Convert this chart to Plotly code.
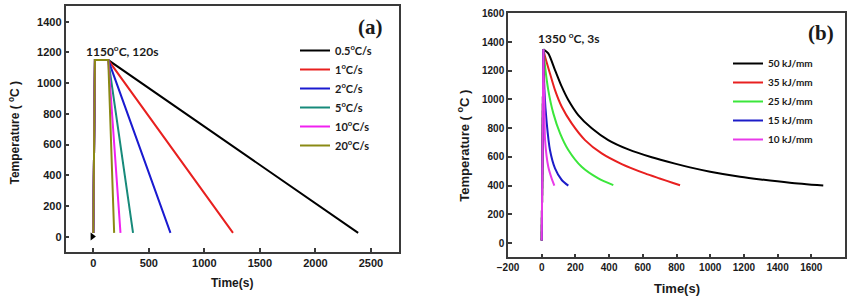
import plotly.graph_objects as go

W, H = 856, 298

# ---------- Panel (a) data ----------
labels_a = ["0.5<sup>o</sup>C/s", "1<sup>o</sup>C/s", "2<sup>o</sup>C/s", "5<sup>o</sup>C/s", "10<sup>o</sup>C/s", "20<sup>o</sup>C/s"]
colors_a = ["#000000", "#e8201f", "#1a1ad0", "#178a7a", "#f020f0", "#8a8a14"]
heat_t = [0, 15, 135]
heat_T = [25, 1150, 1150]
end_t_a = [2385, 1258, 695, 358, 245, 188]
end_T_a = [25, 25, 25, 25, 25, 25]

# ---------- Panel (b) data ----------
labels_b = ["50 kJ/mm", "35 kJ/mm", "25 kJ/mm", "15 kJ/mm", "10 kJ/mm"]
colors_b = ["#000000", "#e82020", "#3be63b", "#1c1cc8", "#e83ae8"]
heat_t_b = [0, 10]
heat_T_b = [18, 1350]
t_b = [
    [10, 39, 79, 119, 158, 217, 297, 395, 514, 653, 791, 880, 1000, 1177, 1300, 1473, 1671],
    [10, 20, 49, 79, 119, 178, 257, 356, 475, 613, 700, 780, 821],
    [10, 20, 39, 69, 109, 158, 237, 336, 425],
    [10, 16, 30, 49, 79, 119, 158],
    [10, 14, 16, 20, 39, 59, 75],
]
T_b = [
    [1350, 1321, 1205, 1089, 996, 891, 799, 717, 652, 597, 553, 527, 497, 462, 443, 420, 400],
    [1350, 1297, 1181, 1065, 949, 833, 717, 624, 550, 485, 450, 418, 402],
    [1350, 1228, 1065, 903, 764, 648, 531, 450, 403],
    [1350, 1065, 833, 648, 520, 439, 400],
    [1350, 1181, 949, 717, 531, 450, 400],
]

fig = go.Figure()

for lab, c, te, Te in zip(labels_a, colors_a, end_t_a, end_T_a):
    fig.add_trace(go.Scatter(
        x=heat_t + [te], y=heat_T + [Te], mode="lines", name=lab,
        line=dict(color=c, width=2), xaxis="x", yaxis="y", legend="legend"))

# small black marker near origin in (a)
fig.add_trace(go.Scatter(x=[-8], y=[2], mode="markers", showlegend=False,
                         marker=dict(symbol="triangle-right", size=7, color="black"),
                         xaxis="x", yaxis="y"))

for i, (lab, c, tt, TT) in enumerate(zip(labels_b, colors_b, t_b, T_b)):
    fig.add_trace(go.Scatter(
        x=tt, y=TT, mode="lines", name=lab, legendgroup=f"b{i}",
        line=dict(color=c, width=2, shape="spline", smoothing=0.7),
        xaxis="x2", yaxis="y2", legend="legend2"))
for i, c in enumerate(colors_b):
    fig.add_trace(go.Scatter(
        x=heat_t_b, y=heat_T_b, mode="lines", showlegend=False, legendgroup=f"b{i}",
        line=dict(color=c, width=2), xaxis="x2", yaxis="y2", legend="legend2"))

tickfont_a = dict(family="Liberation Sans", size=11, color="#1a1a1a", weight="bold")
tickfont_b = dict(family="Liberation Sans", size=10, color="#1a1a1a", weight="bold")
axcommon = dict(showgrid=False, zeroline=False, showline=True, mirror=True, automargin=False,
                linecolor="#3a3a3a", linewidth=1.5, ticks="inside", ticklen=4,
                tickcolor="#3a3a3a", tickwidth=1.5)

fig.update_layout(
    width=W, height=H, margin=dict(l=0, r=0, t=0, b=0, autoexpand=False),
    paper_bgcolor="white", plot_bgcolor="white",
    xaxis=dict(domain=[65.5 / W, 398.7 / W], range=[-250, 2750], tickvals=[0, 500, 1000, 1500, 2000, 2500],
               tickfont=tickfont_a, anchor="y", **axcommon),
    yaxis=dict(domain=[1 - 252.1 / H, 1 - 6.3 / H], range=[-100, 1500], tickvals=list(range(0, 1401, 200)),
               tickfont=tickfont_a, anchor="x", **axcommon),
    xaxis2=dict(domain=[508 / W, 845 / W], range=[-200, 1800], tickvals=list(range(-200, 1801, 200)),
                tickfont=tickfont_b, anchor="y2", **axcommon),
    yaxis2=dict(domain=[1 - 257.4 / H, 1 - 13.3 / H], range=[-100, 1600], tickvals=list(range(0, 1601, 200)),
                tickfont=tickfont_b, anchor="x2", **axcommon),
    legend=dict(x=295 / W, y=1 - 36 / H, xanchor="left", yanchor="top", bgcolor="rgba(0,0,0,0)",
                font=dict(family="Lato", size=11, color="#1a1a1a", weight="bold"), tracegroupgap=0),
    legend2=dict(x=728 / W, y=1 - 49 / H, xanchor="left", yanchor="top", bgcolor="rgba(0,0,0,0)",
                 font=dict(family="Lato", size=10, color="#1a1a1a", weight="bold"), tracegroupgap=0),
    showlegend=True,
)

ann_font_axis = dict(family="Liberation Sans", size=12, color="#1a1a1a", weight="bold")
annotations = [
    dict(text="Temperature ( <sup>o</sup>C )", x=13 / W, y=1 - 132.5 / H, textangle=-90, font=ann_font_axis),
    dict(text="Time(s)", x=232 / W, y=1 - 283 / H, font=ann_font_axis),
    dict(text="Temperature ( <sup>o</sup>C )", x=463 / W, y=1 - 145.8 / H, textangle=-90,
         font=dict(ann_font_axis, size=13)),
    dict(text="Time(s)", x=677 / W, y=1 - 288 / H, font=dict(ann_font_axis, size=13)),
    dict(text="(a)", x=370 / W, y=1 - 27 / H,
         font=dict(family="Liberation Serif", size=21, color="#1a1a1a", weight="bold")),
    dict(text="(b)", x=821 / W, y=1 - 33 / H,
         font=dict(family="Liberation Serif", size=21, color="#1a1a1a", weight="bold")),
    dict(text="1150<sup>o</sup>C, 120s", x=122 / W, y=1 - 51 / H,
         font=dict(family="Lato", size=12, color="#1a1a1a", weight="bold")),
    dict(text="1350 <sup>o</sup>C, 3s", x=568 / W, y=1 - 38 / H,
         font=dict(family="Lato", size=12, color="#1a1a1a", weight="bold")),
]
for a in annotations:
    a.update(xref="paper", yref="paper", showarrow=False, xanchor="center", yanchor="middle")
fig.update_layout(annotations=annotations)

fig.write_html("out.html")
